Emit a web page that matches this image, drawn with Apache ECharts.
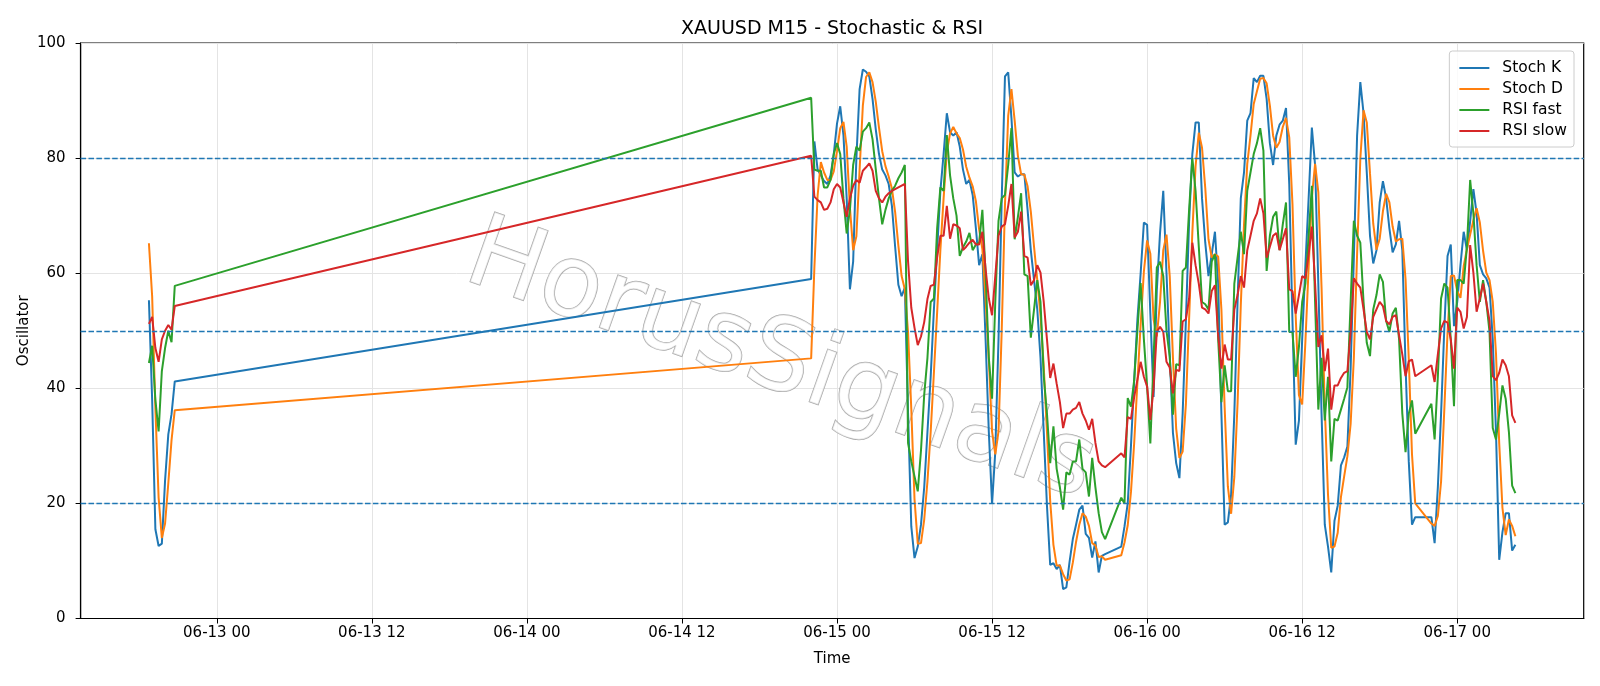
<!DOCTYPE html>
<html>
<head>
<meta charset="utf-8">
<script src="https://cdn.jsdelivr.net/npm/echarts@6/dist/echarts.min.js"></script>
<style>
  html, body { margin: 0; padding: 0; background: #fff; }
  #chart { width: 1600px; height: 686px; }
</style>
</head>
<body>
<div id="chart"></div>
<script>
// M15 sessions: [first bar, number of bars]
const sessions = [
  ['2026-06-12T18:45:00Z', 9],
  ['2026-06-14T22:00:00Z', 92],
  ['2026-06-15T22:00:00Z', 92],
  ['2026-06-16T22:00:00Z', 27]
];

const tickLabels = [
  '2026-06-13T00:00:00Z', '2026-06-13T12:00:00Z', '2026-06-14T00:00:00Z',
  '2026-06-14T12:00:00Z', '2026-06-15T00:00:00Z', '2026-06-15T12:00:00Z',
  '2026-06-16T00:00:00Z', '2026-06-16T12:00:00Z', '2026-06-17T00:00:00Z'
];

const stochK = [
  55.3, 38, 15.5, 12.6, 13, 24, 32, 35.5, 41.2,
  59, 82.9, 78, 77, 76, 75.5, 77, 80.7, 86, 89, 84, 73, 57.2, 62, 80, 92, 95.4, 95, 94.2, 90.3,
  85, 80.7, 78, 77, 75.5, 71.7, 64.6, 58, 56, 57.5, 35.6, 16, 10.5, 12.5, 16.3, 22.8, 32.4, 42,
  53.7, 64, 74.3, 80.7, 87.8, 84.5, 83.9, 84.5, 82, 78, 75.5, 76.2, 73.6, 67.8, 61.4, 63.3, 48.5,
  32.4, 19.9, 29, 48.5, 73, 94.2, 94.9, 87, 77.5, 76.8, 77.2, 77.2, 71, 64, 58.8, 53.7, 45.3, 32.4,
  19.6, 9.3, 9.6, 8.6, 9.3, 5.1, 5.4, 9.9, 13.8, 16.3, 18.9, 19.6, 14.7, 14, 10.6, 13.4, 8, 10.9, 11.2,
  12.5, 16, 20, 30, 41.4, 52, 60, 68.8, 68.4, 53, 38.5, 57, 67, 74.3, 60, 46, 32.2, 27, 24.4, 35.6,
  51.7, 69, 80.7, 86.2, 86.2, 73, 65.3, 59.5, 63.3, 67.2, 58.2, 35.6, 16.3, 16.7, 21.5, 35.6, 55, 73,
  77.5, 86.5, 87.8, 93.9, 93.2, 94.3, 94.3, 90.3, 82.6, 78.8, 83.9, 85.8, 86.5, 88.7, 75.5, 51.7,
  30.2, 34.4, 48.5, 61.4, 73, 85.3, 78.8, 58.2, 35.6, 16.3, 12.5, 8, 17, 19.6, 26.6, 28, 29.9, 43.4,
  62.7, 83.9, 93.2, 87.8, 77.5, 66.5, 61.7, 64, 72.3, 76, 73, 67.8, 63.6, 65, 69.1, 64, 44, 27.3, 16.3, 17.6,
  17.6, 13.1, 22.8, 35.6, 50.4, 63, 65, 50.8, 55, 61.4, 67.2, 64, 69, 74.6, 70.4, 61.4, 59.8, 59.1,
  57.5, 48.5, 32.4, 10.2, 15, 18.3, 18.3, 11.8, 12.8
];

const stochD = [
  65.2, 56, 36.5, 21, 14, 16.5, 23.5, 31, 36.2,
  45.2, 61, 73.5, 79.3, 77.5, 76.2, 76.2, 77.7, 81.2, 85.2, 86.3, 82, 71.4, 64, 66.4, 78, 89.1, 94.1,
  94.9, 93.2, 89.8, 85.3, 81.2, 78.6, 76.8, 74.7, 70.6, 64.8, 59.5, 57.2, 49.7, 36.4, 20.7, 13, 13.1,
  17.2, 23.8, 32.4, 42.7, 53.2, 64, 73, 81, 84.3, 85.4, 84.3, 83.5, 81.5, 78.5, 76.6, 75.1, 72.5,
  67.6, 64.2, 55.5, 45, 32.5, 28.5, 32.5, 50.2, 71.9, 87.4, 92, 86.5, 80.4, 77.2, 77.1, 75.1, 70.7,
  64.6, 58.8, 52.6, 43.8, 32.4, 20.4, 12.8, 9.2, 9.2, 7.7, 6.6, 6.8, 9.7, 13.3, 16.3, 18.3, 17.7, 16.1,
  13.1, 12.7, 10.7, 10.8, 10.2,
  11, 13.2, 16.2, 22, 30.5, 41.1, 51.1, 60.3, 65.7, 63.4, 52, 49, 55, 64, 66.7, 59.5, 45.3, 33, 27.9,
  29, 37.2, 52.1, 67.1, 78.6, 84.4, 81.8, 74.8, 65.9, 62.7, 63.3, 62.9, 53.7, 36.7, 22.9, 18.2, 24.6,
  37.4, 54.5, 68.5, 79, 83.9, 89.4, 91.6, 93.8, 93.9, 93, 89.1, 83.9, 81.8, 82.8, 85.4, 87, 83.6, 72,
  52.5, 38.8, 37.2, 48.1, 61, 73.2, 79, 74.1, 57.5, 36.7, 21.5, 12.3, 12.5, 14.9, 21.1, 24.7, 28.2,
  33.8, 45.3, 63.3, 79.9, 88.3, 86.2, 77.3, 68.6, 64.1, 66, 70.8, 73.8, 72.3, 68.1, 65.5, 65.9, 66,
  59, 45.1, 28.5, 20,
  16.5, 16.1, 17.8, 23.8, 36.3, 49.7, 59.5, 59.6, 56.9, 55.7, 61.2, 64.2, 66.7, 69.2, 71.3, 68.8,
  63.9, 60.1, 58.8, 55, 46.1, 30.4, 19.2, 14.5, 17.2, 16.1, 14.3
];

const rsiFast = [
  44.4, 47.4, 38, 32.5, 43, 47, 50, 48, 57.8,
  90.5, 78, 77.8, 77.8, 74.9, 74.9, 76.2, 80.7, 82.6, 80.7, 73, 66.9, 71, 78.8, 82, 81.3, 84.6, 85.2,
  86.2, 83.3, 78.1, 73, 68.5, 71, 73, 74.3, 75.2, 76.5, 77.5, 78.8, 30.5, 27.3, 24.7, 22.1, 29.2,
  38.9, 45.3, 55, 55.6, 67.8, 74.9, 74.3, 84, 77, 73, 70, 63, 64.5, 65.5, 67, 64, 65, 65.3, 71, 60,
  45.3, 38.2, 55, 69.1, 73, 73.6, 78.8, 85.2, 65.9, 69.8, 73.9, 59.8, 59.5, 48.8, 53.7, 58.8, 55,
  42.1, 35.6, 27, 33.4, 26, 22.8, 18.9, 25.4, 25, 27.3, 27.3, 31.1, 26, 25.4, 21.2, 27.9, 22.8, 18.3,
  15, 13.8,
  21, 20, 38.3, 36.8, 41.4, 50.1, 58.3, 48.5, 40.3, 30.4, 45, 61, 62, 59.5, 50, 45.5, 35.4, 44.2, 44,
  60.4, 61, 71, 80, 74.3, 64.6, 55, 54.6, 53.7, 62, 63.3, 48.5, 37.6, 44, 39.5, 39.5, 58.2, 62.7,
  67.2, 63.3, 74.3, 77.5, 80.7, 82.6, 85.2, 81.3, 60.4, 66.5, 69.8, 70.7, 64, 68.5, 72.3, 49.8, 49.8,
  42, 47.2, 55, 58.2, 66.5, 75.2, 55, 36.3, 45.3, 34.4, 42, 27.3, 34.7, 34.4, 36.3, 38.2, 40.2, 55,
  69.1, 66.5, 65.3, 55, 47.9, 45.6, 53.7, 56.2, 59.8, 58.5, 51.7, 49.8, 53, 54, 48.5, 35.6, 28.9,
  35.6, 37.9, 32.1,
  37.3, 31.1, 42, 55.6, 58.2, 57.5, 48.5, 36.9, 58.8, 58.8, 58.2, 64.6, 76.2, 70.4, 61.4, 55, 58.8,
  55, 49.8, 33.1, 31.1, 35.6, 40.5, 38.2, 32.4, 23.1, 21.8
];

const rsiSlow = [
  51.2, 52.4, 47, 44.6, 48.5, 50, 51, 50.2, 54.3,
  80.4, 73.3, 72.7, 72.3, 71, 71.2, 72.3, 74.6, 75.5, 74.9, 72.3, 69.8, 73, 75.2, 76.2, 75.7, 77.8,
  78.4, 79.1, 77.8, 74.3, 73, 72.3, 73.3, 73.9, 74.3, 74.6, 74.9, 75.2, 75.5, 62, 54, 50.5, 47.5, 49,
  51.5, 55.5, 57.8, 58, 62.7, 66.5, 66.5, 71.7, 66, 68.5, 68.3, 67.8, 64, 64.6, 65.3, 65.8, 65, 65,
  67.2, 60.7, 55.6, 52.7, 59.5, 66.5, 68.1, 68.5, 71.7, 75.5, 66.2, 67.2, 70.7, 63, 62.7, 57.9, 58.8,
  61.4, 60.1, 55, 48.5, 41.8, 44.3, 40.8, 37.6, 33.1, 35.6, 35.6, 36.3, 36.6, 37.6, 35.6, 34.4, 32.8,
  34.7, 30.5, 27.3, 26.6, 26.3,
  28.7, 28, 35, 34.7, 38.5, 41.5, 44.6, 42, 40.3, 34.5, 40, 49.8, 50.7, 49.8, 44.6, 43.6, 39.1, 43.2,
  43, 51.6, 52, 55.6, 65.3, 61.4, 58.2, 54, 53.7, 53, 56.9, 57.9, 49.2, 43.4, 47.6, 45, 45, 53.7,
  56.2, 59.5, 57.5, 64, 66.5, 69.1, 70.4, 73, 70.4, 62.7, 64.6, 66.5, 67, 64, 65.9, 67.8, 57.2, 56.9,
  53, 56.2, 59.5, 59.1, 63.3, 68.1, 58.2, 47.2, 49.2, 43, 46.9, 36.3, 40.5, 40.5, 41.8, 42.7, 43,
  49.8, 59.1, 58.2, 57.5, 53.7, 49.8, 48.5, 52.4, 53.7, 55, 54.3, 51.7, 51.1, 52.4, 52.7, 49.2, 45.9,
  42.1, 44.7, 45, 42.1,
  44, 41.1, 45.9, 50.4, 51.7, 51.4, 48.5, 43.4, 54, 53.3, 50.4, 52.4, 64.9, 60.1, 53.3, 55.6, 58.2,
  55, 51.7, 42.1, 41.4, 42.7, 45, 44, 42.1, 35.3, 34
];

const levels = [80, 50, 20];

const BAR = 15 * 60 * 1000;
const times = [];
sessions.forEach(([start, n]) => {
  const t0 = Date.parse(start);
  for (let i = 0; i < n; i++) times.push(t0 + i * BAR);
});
const ticks = tickLabels.map((s) => Date.parse(s));

const pair = (vals) => vals.map((v, i) => [times[i], v]);
const pad = (n) => String(n).padStart(2, '0');
function fmtTime(v) {
  const d = new Date(v);
  return pad(d.getUTCMonth() + 1) + '-' + pad(d.getUTCDate()) + ' ' + pad(d.getUTCHours());
}

const FONT = 'DejaVu Sans';
const span = times[times.length - 1] - times[0];
const xMin = times[0] - span * 0.05;
const xMax = times[times.length - 1] + span * 0.05;

function lineSeries(name, vals, color, extra) {
  return Object.assign({
    name,
    type: 'line',
    data: pair(vals),
    showSymbol: false,
    symbol: 'none',
    lineStyle: { color, width: 2 },
    itemStyle: { color },
    z: 3,
    animation: false
  }, extra || {});
}

const chart = echarts.init(document.getElementById('chart'), null, { renderer: 'canvas' });

chart.setOption({
  backgroundColor: '#fff',
  animation: false,
  textStyle: { fontFamily: FONT },
  title: {
    text: 'XAUUSD M15 - Stochastic & RSI',
    left: 676,
    top: 15,
    textStyle: { fontFamily: FONT, fontSize: 19, fontWeight: 'normal', color: '#000' }
  },
  grid: {
    left: 80.6, right: 16.3, top: 43, bottom: 67.5,
    show: true, borderColor: '#000', borderWidth: 1.2, backgroundColor: 'transparent'
  },
  legend: {
    orient: 'vertical',
    right: 26,
    top: 51,
    itemWidth: 30,
    itemHeight: 2,
    itemGap: 5,
    icon: 'rect',
    padding: [9, 7, 8, 10],
    backgroundColor: 'rgba(255,255,255,0.8)',
    borderColor: '#cccccc',
    borderWidth: 1,
    borderRadius: 3,
    textStyle: { fontFamily: FONT, fontSize: 15.5, color: '#000', padding: [0, 0, 0, 8] },
    data: ['Stoch K', 'Stoch D', 'RSI fast', 'RSI slow']
  },
  xAxis: {
    type: 'value',
    min: xMin,
    max: xMax,
    name: 'Time',
    nameLocation: 'middle',
    nameGap: 33,
    nameTextStyle: { fontFamily: FONT, fontSize: 15, color: '#000' },
    axisLine: { show: true, lineStyle: { color: '#000', width: 1.2 } },
    axisTick: { show: true, customValues: ticks, length: 5, lineStyle: { color: '#000' } },
    axisLabel: {
      customValues: ticks,
      formatter: fmtTime,
      fontFamily: FONT, fontSize: 15, color: '#000', margin: 7
    },
    splitLine: { show: true, lineStyle: { color: '#e4e4e4', width: 1 } }
  },
  yAxis: {
    type: 'value',
    min: 0,
    max: 100,
    interval: 20,
    name: 'Oscillator',
    nameLocation: 'middle',
    nameGap: 49,
    nameMoveOverlap: false,
    nameTextStyle: { fontFamily: FONT, fontSize: 15, color: '#000' },
    axisLine: { show: true, lineStyle: { color: '#000', width: 1.2 } },
    axisTick: { show: true, length: 5, lineStyle: { color: '#000' } },
    axisLabel: { fontFamily: FONT, fontSize: 15, color: '#000', margin: 15 },
    splitLine: { show: true, lineStyle: { color: '#e4e4e4', width: 1 } }
  },
  graphic: [{
    type: 'text',
    left: 452,
    top: 205,
    rotation: -0.34,
    z: 1,
    style: {
      text: 'HorusSignals',
      fontFamily: FONT,
      fontSize: 101,
      fill: 'rgba(255,255,255,0.75)',
      stroke: 'rgba(140,140,140,0.75)',
      lineWidth: 1.5,
      shadowColor: 'rgba(0,0,0,0.3)',
      shadowBlur: 3,
      shadowOffsetX: 5,
      shadowOffsetY: 5
    }
  }],
  series: [
    lineSeries('Stoch K', stochK, '#1f77b4', {
      markLine: {
        silent: true,
        symbol: 'none',
        label: { show: false },
        lineStyle: { color: '#1f77b4', width: 1.3, type: [5.5, 2.4] },
        data: levels.map((v) => ({ yAxis: v }))
      }
    }),
    lineSeries('Stoch D', stochD, '#ff7f0e'),
    lineSeries('RSI fast', rsiFast, '#2ca02c'),
    lineSeries('RSI slow', rsiSlow, '#d62728')
  ]
});
</script>
</body>
</html>
